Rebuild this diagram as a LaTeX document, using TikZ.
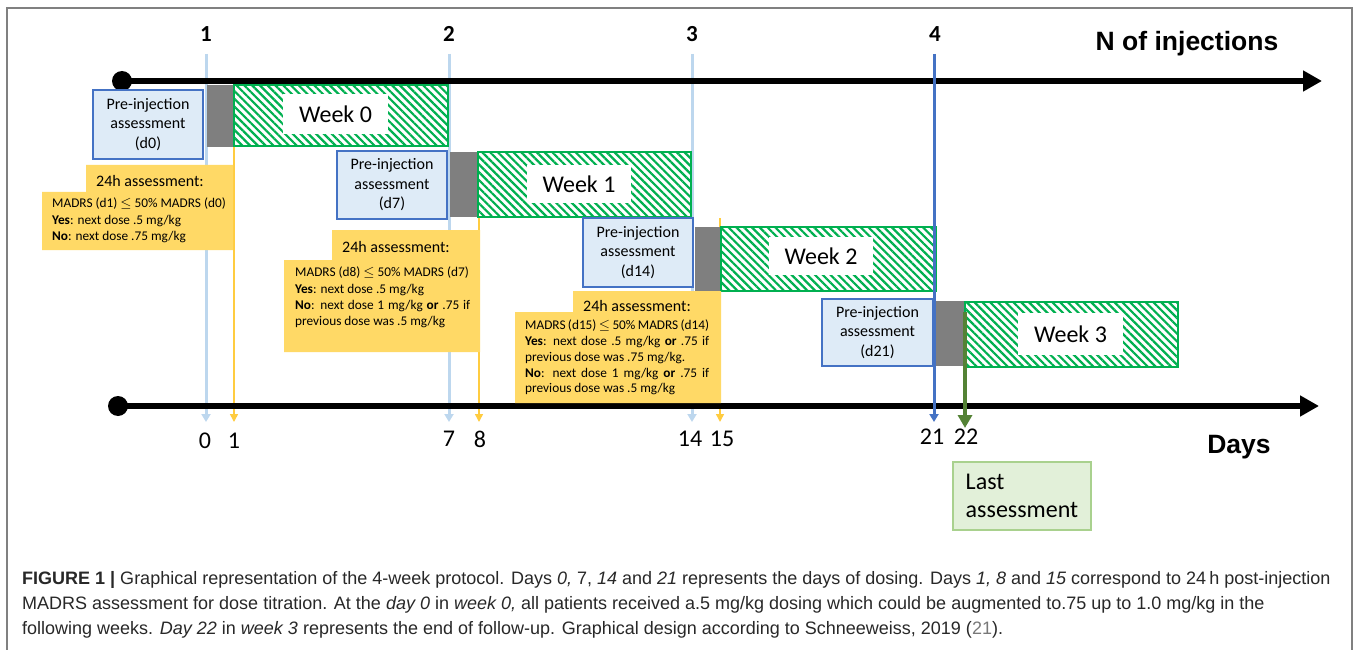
\documentclass[tikz,border=0pt]{standalone}
\usepackage{fontspec}
\setmainfont{Carlito}
\newfontfamily\arialf{Liberation Sans}
\usetikzlibrary{arrows.meta,patterns.meta}
\definecolor{lblue}{RGB}{189,215,238}
\definecolor{boxblue}{RGB}{222,235,247}
\definecolor{bblue}{RGB}{68,114,196}
\definecolor{gbox}{RGB}{127,127,127}
\definecolor{hgreen}{RGB}{0,176,80}
\definecolor{yfill}{RGB}{255,217,102}
\definecolor{yline}{RGB}{255,204,64}
\definecolor{dgreen}{RGB}{84,130,53}
\definecolor{lastfill}{RGB}{226,240,217}
\definecolor{lastdraw}{RGB}{169,209,142}
\definecolor{framec}{RGB}{128,128,128}
\definecolor{captc}{RGB}{40,40,40}
\definecolor{linkc}{RGB}{120,120,120}
\begin{document}
\begin{tikzpicture}[x=1pt,y=-1pt,
  prebox/.style={draw=bblue,fill=boxblue,line width=1.5,inner sep=0,align=center,
    minimum width=110,minimum height=68,font=\fontsize{16}{19.5}\selectfont},
  graybox/.style={fill=gbox,inner sep=0},
  weekbox/.style={draw=hgreen,line width=1.5,inner sep=0,
    pattern={Lines[angle=-45,distance=5.5pt,line width=2.2pt]},pattern color=hgreen},
  weeklab/.style={fill=white,inner sep=0,font=\fontsize{24}{28}\selectfont},
  ytitle/.style={inner sep=0,font=\fontsize{16}{19}\selectfont},
  ybody/.style={inner sep=0,align=left,anchor=west,font=\fontsize{13.3}{16.4}\selectfont},
  lbarrow/.style={draw=lblue,line width=3,-{Triangle[width=9pt,length=8pt]}},
  ylarrow/.style={draw=yline,line width=1.5,-{Triangle[width=8pt,length=8pt]}},
  axis/.style={line width=6.5,-{Triangle[width=20pt,length=19pt]}},
  dot/.style={circle,fill=black,minimum size=20,inner sep=0},
  numlab/.style={font=\fontsize{23}{26}\selectfont\bfseries,inner sep=0},
  daylab/.style={font=\fontsize{24}{28}\selectfont,inner sep=0},
  bigl/.style={font=\arialf\bfseries\fontsize{26.5}{30}\selectfont,inner sep=0},
  capt/.style={anchor=west,inner sep=0,text=captc,font=\arialf\fontsize{18}{22}\selectfont}
]
\useasboundingbox (0,0) rectangle (1358,650);
\fill[white] (0,0) rectangle (1358,650);
\draw[framec,line width=1.5] (7,650) -- (7,8) -- (1352,8) -- (1352,650);

% coordinates of vertical markers
\coordinate (v1t) at (206,54);  \coordinate (v1b) at (206,422);
\coordinate (u1t) at (234,147); \coordinate (u1b) at (234,422);
\coordinate (v2t) at (449,54);  \coordinate (v2b) at (449,422);
\coordinate (u2t) at (479,217); \coordinate (u2b) at (479,422);
\coordinate (v3t) at (692,54);  \coordinate (v3b) at (692,422);
\coordinate (u3t) at (720,218); \coordinate (u3b) at (720,422);
\coordinate (v4t) at (934,54);  \coordinate (v4b) at (934,422);
\coordinate (gt) at (965,312);  \coordinate (gb) at (965,428);

\draw[lbarrow] (v1t) -- (v1b);
\draw[lbarrow] (v2t) -- (v2b);
\draw[lbarrow] (v3t) -- (v3b);
\draw[ylarrow] (u1t) -- (u1b);
\draw[ylarrow] (u2t) -- (u2b);
\draw[ylarrow] (u3t) -- (u3b);

% axes
\node[dot] (dot1) at (122,81) {};
\coordinate (ax1e) at (1322,81);
\draw[axis] (dot1.center) -- (ax1e);
\node[dot] (dot2) at (118,406) {};
\coordinate (ax2e) at (1319,406);
\draw[axis] (dot2.center) -- (ax2e);

% top labels
\node[numlab] (n1) at (206,34) {1};
\node[numlab] (n2) at (449,34) {2};
\node[numlab] (n3) at (692,34) {3};
\node[numlab] (n4) at (935,34) {4};
\node[bigl] (ninj) at (1187,44) {N of injections};
\node[bigl] (days) at (1239,447) {Days};

% day labels
\node[daylab] (d0) at (205,441) {0};
\node[daylab] (d1) at (234,441) {1};
\node[daylab] (d7) at (449,439) {7};
\node[daylab] (d8) at (480,439) {8};
\node[daylab] (d14) at (690,439) {14};
\node[daylab] (d15) at (722,439) {15};
\node[daylab] (d21) at (932,437) {21};
\node[daylab] (d22) at (966,437) {22};

% week 0
\node[prebox,minimum height=69] (p0) at (148,124.5) {Pre-injection\\assessment\\(d0)};
\node[graybox,minimum width=27,minimum height=62] (g0) at (220.5,116) {};
\node[weekbox,minimum width=214,minimum height=61] (w0) at (341,115.5) {};
\node[weeklab,minimum width=105,minimum height=40] (wl0) at (335.5,114) {Week 0};

% week 1
\node[prebox] (p1) at (392,185) {Pre-injection\\assessment\\(d7)};
\node[graybox,minimum width=28,minimum height=65] (g1) at (464,184.5) {};
\node[weekbox,minimum width=213,minimum height=65] (w1) at (584.5,184.5) {};
\node[weeklab,minimum width=104,minimum height=38] (wl1) at (579,184) {Week 1};

% week 2
\node[prebox,minimum height=69] (p2) at (638,252.5) {Pre-injection\\assessment\\(d14)};
\node[graybox,minimum width=26,minimum height=64] (g2) at (708,259) {};
\node[weekbox,minimum width=215,minimum height=64] (w2) at (828.5,259) {};
\node[weeklab,minimum width=104,minimum height=38] (wl2) at (821,256) {Week 2};

% week 3
\node[prebox,minimum width=111,minimum height=67] (p3) at (877.5,332.5) {Pre-injection\\assessment\\(d21)};
\node[graybox,minimum width=30,minimum height=65] (g3) at (950,333.5) {};
\node[weekbox,minimum width=213,minimum height=65] (w3) at (1071.5,334.5) {};
\node[weeklab,minimum width=105,minimum height=42] (wl3) at (1070.5,334) {Week 3};

% yellow boxes
\fill[yfill] (86,165) -- (233,165) -- (233,250) -- (42,250) -- (42,192) -- (86,192) -- cycle;
\node[ytitle] (y1t) at (150,181) {24h assessment:};
\node[ybody] (y1b) at (52,220.5) {MADRS (d1) $\le$ 50\% MADRS (d0)\\\textbf{Yes}: next dose .5 mg/kg\\\textbf{No}: next dose .75 mg/kg};

\fill[yfill] (332,230) -- (480,230) -- (480,352) -- (284,352) -- (284,260) -- (332,260) -- cycle;
\node[ytitle] (y2t) at (396,247) {24h assessment:};
\node[ybody] (y2b) at (295,297.5) {MADRS (d8) $\le$ 50\% MADRS (d7)\\\textbf{Yes}: next dose .5 mg/kg\\\makebox[175pt][s]{\textbf{No}: next dose 1 mg/kg \textbf{or} .75 if}\\previous dose was .5 mg/kg};

\fill[yfill] (573,291) -- (721,291) -- (721,403) -- (515,403) -- (515,312) -- (573,312) -- cycle;
\node[ytitle] (y3t) at (637,306) {24h assessment:};
\node[ybody,font=\fontsize{13.3}{15.8}\selectfont] (y3b) at (525,357.5) {\makebox[184pt][s]{MADRS (d15) $\le$ 50\% MADRS (d14)}\\\makebox[184pt][s]{\textbf{Yes}: next dose .5 mg/kg \textbf{or} .75 if}\\previous dose was .75 mg/kg.\\\makebox[184pt][s]{\textbf{No}: next dose 1 mg/kg \textbf{or} .75 if}\\previous dose was .5 mg/kg};

% dose 4 line and last assessment arrow
\draw[draw=bblue,line width=3,-{Triangle[width=9pt,length=8pt]}] (v4t) -- (v4b);
\draw[draw=dgreen,line width=4,-{Triangle[width=14pt,length=13pt]}] (gt) -- (gb);

\node[draw=lastdraw,fill=lastfill,line width=1.2,minimum width=138,minimum height=68,inner sep=0,align=left,font=\fontsize{24}{28}\selectfont] (last) at (1022,496) {Last\\assessment};

% caption
\node[capt] (c1) at (22,580) {\textbf{FIGURE 1 |} Graphical representation of the 4-week protocol. Days \textit{0,} 7, \textit{14} and \textit{21} represents the days of dosing. Days \textit{1, 8} and \textit{15} correspond to 24\,h post-injection};
\node[capt] (c2) at (22,605) {MADRS assessment for dose titration. At the \textit{day 0} in \textit{week 0,} all patients received a.5 mg/kg dosing which could be augmented to.75 up to 1.0 mg/kg in the};
\node[capt] (c3) at (22,630) {following weeks. \textit{Day 22} in \textit{week 3} represents the end of follow-up. Graphical design according to Schneeweiss, 2019 ({\color{linkc}21}).};
\end{tikzpicture}
\end{document}
